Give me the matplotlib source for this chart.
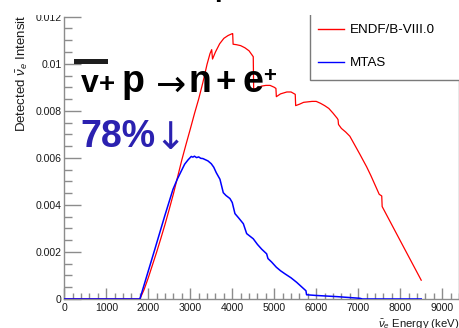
import matplotlib
matplotlib.use("Agg")
import matplotlib.pyplot as plt
from matplotlib.patches import Rectangle
from matplotlib.ticker import MultipleLocator
from matplotlib.lines import Line2D

# ---------------- data ----------------
endf_energy = [0, 1800, 1900, 2000, 2100, 2200, 2300, 2400, 2500, 2600, 2700, 2800,
               2900, 3000, 3100, 3200, 3300, 3400, 3470, 3510, 3530, 3600, 3700,
               3800, 3900, 4000, 4010, 4020, 4100, 4200, 4300, 4400, 4480, 4500,
               4510, 4600, 4700, 4800, 4900, 5000, 5040, 5050, 5150, 5300, 5400,
               5500, 5510, 5600, 5700, 5800, 5900, 6000, 6100, 6200, 6300, 6400,
               6500, 6520, 6530, 6600, 6700, 6800, 6900, 7040, 7100, 7200, 7300,
               7400, 7500, 7560, 7570, 8000, 8500]
endf_intensity = [0, 0, 0.00040, 0.00090, 0.00145, 0.00200, 0.00258, 0.00318, 0.00382,
                  0.00448, 0.00520, 0.00592, 0.00658, 0.00722, 0.00788, 0.00850,
                  0.00920, 0.00998, 0.01043, 0.01060, 0.01020, 0.01050, 0.01085,
                  0.01108, 0.01120, 0.01128, 0.01128, 0.01083, 0.01081, 0.01077,
                  0.01068, 0.01055, 0.01035, 0.01030, 0.00890, 0.00898, 0.00905,
                  0.00908, 0.00908, 0.00900, 0.00895, 0.00860, 0.00872, 0.00880,
                  0.00880, 0.00870, 0.00822, 0.00828, 0.00836, 0.00838, 0.00840,
                  0.00840, 0.00832, 0.00822, 0.00810, 0.00790, 0.00768, 0.00762,
                  0.00742, 0.00725, 0.00710, 0.00692, 0.00660, 0.00615, 0.00595,
                  0.00562, 0.00525, 0.00485, 0.00445, 0.00438, 0.00393, 0.00248,
                  0.00080]

mtas_energy = [0, 1800, 2000, 2152, 2390, 2588, 2690, 2866, 2950, 3024, 3060, 3100,
               3150, 3200, 3250, 3300, 3421, 3500, 3560, 3619, 3707, 3786, 3850,
               3945, 4000, 4064, 4150, 4264, 4343, 4400, 4500, 4600, 4700, 4819,
               4850, 4938, 5050, 5150, 5255, 5400, 5533, 5650, 5755, 5770, 6000,
               6500, 7040, 7100, 8500]
mtas_intensity = [0, 0, 0.00119, 0.00209, 0.00352, 0.00466, 0.00509, 0.00573, 0.00592,
                  0.00606, 0.00603, 0.00607, 0.00601, 0.00604, 0.00598, 0.00597,
                  0.00587, 0.00575, 0.00560, 0.00537, 0.00509, 0.00452, 0.00440,
                  0.00427, 0.00410, 0.00363, 0.00345, 0.00320, 0.00278, 0.00270,
                  0.00256, 0.00232, 0.00212, 0.00192, 0.00172, 0.00157, 0.00135,
                  0.00120, 0.00107, 0.00090, 0.00071, 0.00052, 0.00035, 0.00018,
                  0.00015, 0.00010, 0.00003, 0.0, 0.0]

series_labels = ["ENDF/B-VIII.0", "MTAS"]
x_ticks = [0, 1000, 2000, 3000, 4000, 5000, 6000, 7000, 8000, 9000]
x_tick_labels = ["0", "1000", "2000", "3000", "4000", "5000", "6000", "7000", "8000", "9000"]
y_ticks = [0, 0.002, 0.004, 0.006, 0.008, 0.010, 0.012]
y_tick_labels = ["0", "0.002", "0.004", "0.006", "0.008", "0.01", "0.012"]

# ---------------- style ----------------
plt.rcParams['font.family'] = ['Liberation Sans', 'DejaVu Sans']
plt.rcParams['mathtext.fontset'] = 'custom'
plt.rcParams['mathtext.rm'] = 'Liberation Sans'
plt.rcParams['mathtext.it'] = 'Liberation Sans:italic'

W, H = 460, 328
fig = plt.figure(figsize=(W / 100, H / 100), dpi=100)


def fx(px):
    return px / W


def fy(py):
    return 1 - py / H


ax = fig.add_axes([fx(64.3), fy(299), fx(459) - fx(64.3), fy(16.7) - fy(299)])
ax.plot(endf_energy, endf_intensity, color='#ff0000', lw=0.9, zorder=2)
ax.plot(mtas_energy, mtas_intensity, color='#0000ff', lw=1.1, zorder=3)

ax.set_xlim(0, 9400)
ax.set_ylim(0, 0.012)
ax.set_xticks(x_ticks, x_tick_labels)
ax.set_yticks(y_ticks, y_tick_labels)
ax.xaxis.set_minor_locator(MultipleLocator(200))
ax.yaxis.set_minor_locator(MultipleLocator(0.0005))

axis_gray = '#8c8c8c'
ax.spines['top'].set_visible(False)
for s in ['left', 'bottom', 'right']:
    ax.spines[s].set_color(axis_gray)
    ax.spines[s].set_linewidth(1.0)
ax.tick_params(axis='x', which='major', direction='in', length=8, width=1,
               color=axis_gray, labelsize=7.6, pad=3, labelcolor='#1a1a1a')
ax.tick_params(axis='x', which='minor', direction='in', length=4, width=1, color=axis_gray)
ax.tick_params(axis='y', which='major', direction='in', length=12, width=1,
               color=axis_gray, labelsize=7.6, pad=2, labelcolor='#1a1a1a')
ax.tick_params(axis='y', which='minor', direction='in', length=6, width=1, color=axis_gray)

# axis titles
fig.text(fx(22), fy(15), r'Detected $\bar{\nu}_{e}$ Intensit', rotation=90,
         ha='center', va='top', fontsize=9.5, color='#1a1a1a')
fig.text(fx(459), fy(327.5), r'$\bar{\nu}_{e}$ Energy (keV)', ha='right', va='baseline',
         fontsize=8.2, color='#1a1a1a')

# legend frame + legend
fig.add_artist(Rectangle((fx(310), fy(80)), 0.5, fy(10) - fy(80), transform=fig.transFigure,
                         facecolor='white', edgecolor='#7a7a7a', lw=1.0, zorder=5))
handles = [Line2D([], [], color='#ff0000', lw=1.0), Line2D([], [], color='#0000ff', lw=1.0)]
leg = fig.legend(handles, series_labels, loc='upper left', bbox_to_anchor=(fx(306), fy(12)),
                 frameon=False, fontsize=9.6, handlelength=1.95, handletextpad=0.45,
                 labelspacing=1.55, borderpad=0.4)
leg.set_zorder(6)

# white cover at the very top
fig.add_artist(Rectangle((0, fy(15)), 1, 15 / H, transform=fig.transFigure,
                         facecolor='white', edgecolor='none', zorder=7))
fig.text(fx(214), fy(-3.5), 'p', fontsize=20, fontweight='bold',
         ha='left', va='baseline', zorder=8)

# overlay annotations
fig.add_artist(Rectangle((fx(74), fy(64.3)), fx(108.3) - fx(74), fy(59) - fy(64.3),
                         transform=fig.transFigure, facecolor='#1e1e1e', edgecolor='none', zorder=9))
txt = dict(fontweight='bold', color='black', va='baseline', ha='left', zorder=9)
fig.text(fx(81), fy(92), 'v', fontsize=23, **txt)
fig.text(fx(99), fy(92), '+', fontsize=20, **txt)
fig.text(fx(121.5), fy(92), 'p', fontsize=27, **txt)
fig.text(fx(156), fy(95.5), '\u2192', fontsize=26, family='DejaVu Sans', color='black',
         va='baseline', ha='left', zorder=9)
fig.text(fx(188.5), fy(92), 'n', fontsize=27, **txt)
fig.text(fx(216), fy(92), '+', fontsize=25, **txt)
fig.text(fx(242.5), fy(92), 'e', fontsize=27, **txt)
fig.text(fx(263), fy(82), '+', fontsize=16, **txt)

blue_txt = '#2b21b0'
fig.text(fx(80.5), fy(147.3), '78%', fontsize=27, fontweight='bold',
         color=blue_txt, va='baseline', ha='left', zorder=9)
fig.text(fx(154.5), fy(149), '\u2193', fontsize=27, family='DejaVu Sans', color=blue_txt,
         va='baseline', ha='left', zorder=9)

fig.savefig('out.png', dpi=100)
